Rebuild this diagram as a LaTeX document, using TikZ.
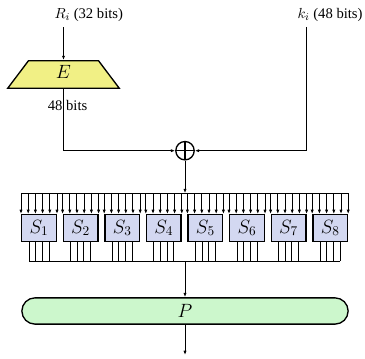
\documentclass[tikz,border=0pt]{standalone}
\usepackage{fontspec}
\setmainfont{Liberation Serif}
\usepackage{xcolor}
\usepackage{tikz}
\usetikzlibrary{arrows.meta,shapes.geometric,calc}

\definecolor{eyellow}{RGB}{241,240,133}
\definecolor{sblue}{RGB}{211,216,241}
\definecolor{pgreen}{RGB}{204,247,204}

\begin{document}
\begin{tikzpicture}[
  x=0.75pt, y=-0.75pt,
  font=\fontsize{11}{13}\selectfont,
  line width=0.75pt,
  lbl/.style={inner sep=0pt},
  big/.style={font=\fontsize{14}{16}\selectfont},
  sbox/.style={big, draw, line width=1pt, fill=sblue, inner sep=0pt,
               minimum width=26pt, minimum height=20pt},
  ebox/.style={big, trapezium, draw, line width=1pt, fill=eyellow, inner sep=0pt,
               trapezium angle=53, text width=52.5pt, align=center,
               text height=13.3pt, text depth=7.4pt},
  pbox/.style={big, draw, line width=1pt, fill=pgreen, rounded corners=9.85pt,
               minimum width=244.7pt, minimum height=19.7pt},
  xor/.style={circle, draw, line width=1pt, minimum size=13.8pt, inner sep=0pt,
              path picture={\draw[line width=1pt]
                (path picture bounding box.north) -- (path picture bounding box.south)
                (path picture bounding box.west) -- (path picture bounding box.east);}},
  ar/.style={-{Latex[length=3.2pt,width=2.4pt]}},
]
\useasboundingbox (0,0) rectangle (365,359);

% --- inputs and expansion -----------------------------------------------
\node[lbl, anchor=base west] (Ri) at (54,18.5) {$R_i$ (32 bits)};
\node[lbl, anchor=base west] (Ki) at (297,18.5) {$k_i$ (48 bits)};
\node[ebox] (E) at (63.5,74.5) {$E$};
\node[xor] (X) at (185,150.7) {};
\coordinate (ktop) at (306.7,27);

\draw[ar] ([yshift=-4pt]Ri.south -| E.north) -- (E.north);
\draw[ar] (E.south) |- (X.west);
\node[lbl, anchor=base west] (eb) at (47.3,111) {48 bits};
\draw[ar] (ktop) |- (X.east);

% --- S-boxes: 6 bits in, 4 bits out each -----------------------------------
\foreach \i in {1,...,8}
  \node[sbox] (S\i) at ({39+(\i-1)*41.6},228) {$S_{\i}$};

\coordinate (busin) at (185,193.2);
\coordinate (busout) at (185,261.5);
\draw (S1.north west |- busin) -- (S8.north east |- busin);
\draw[ar] (X.south) -- (busin);
\foreach \i in {1,...,8} {
  \foreach \k in {0,...,5} {
    \coordinate (pin) at ($(S\i.north west)!\k/5!(S\i.north east)$);
    \draw[ar] (pin |- busin) -- (pin);
  }
  \foreach \k in {0,...,3} {
    \coordinate (pout) at ($(S\i.south)+(\k*6.67-10,0)$);
    \draw (pout) -- (pout |- busout);
  }
}
\coordinate (o1) at ($(S1.south)+(-10,0)$);
\coordinate (o8) at ($(S8.south)+(10,0)$);
\draw (o1 |- busout) -- (o8 |- busout);

% --- permutation -----------------------------------------------------------
\node[pbox] (P) at (185,311) {$P$};
\coordinate (res) at (185,355);
\draw[ar] (busout) -- (P.north);
\draw[ar] (P.south) -- (res);
\end{tikzpicture}
\end{document}
